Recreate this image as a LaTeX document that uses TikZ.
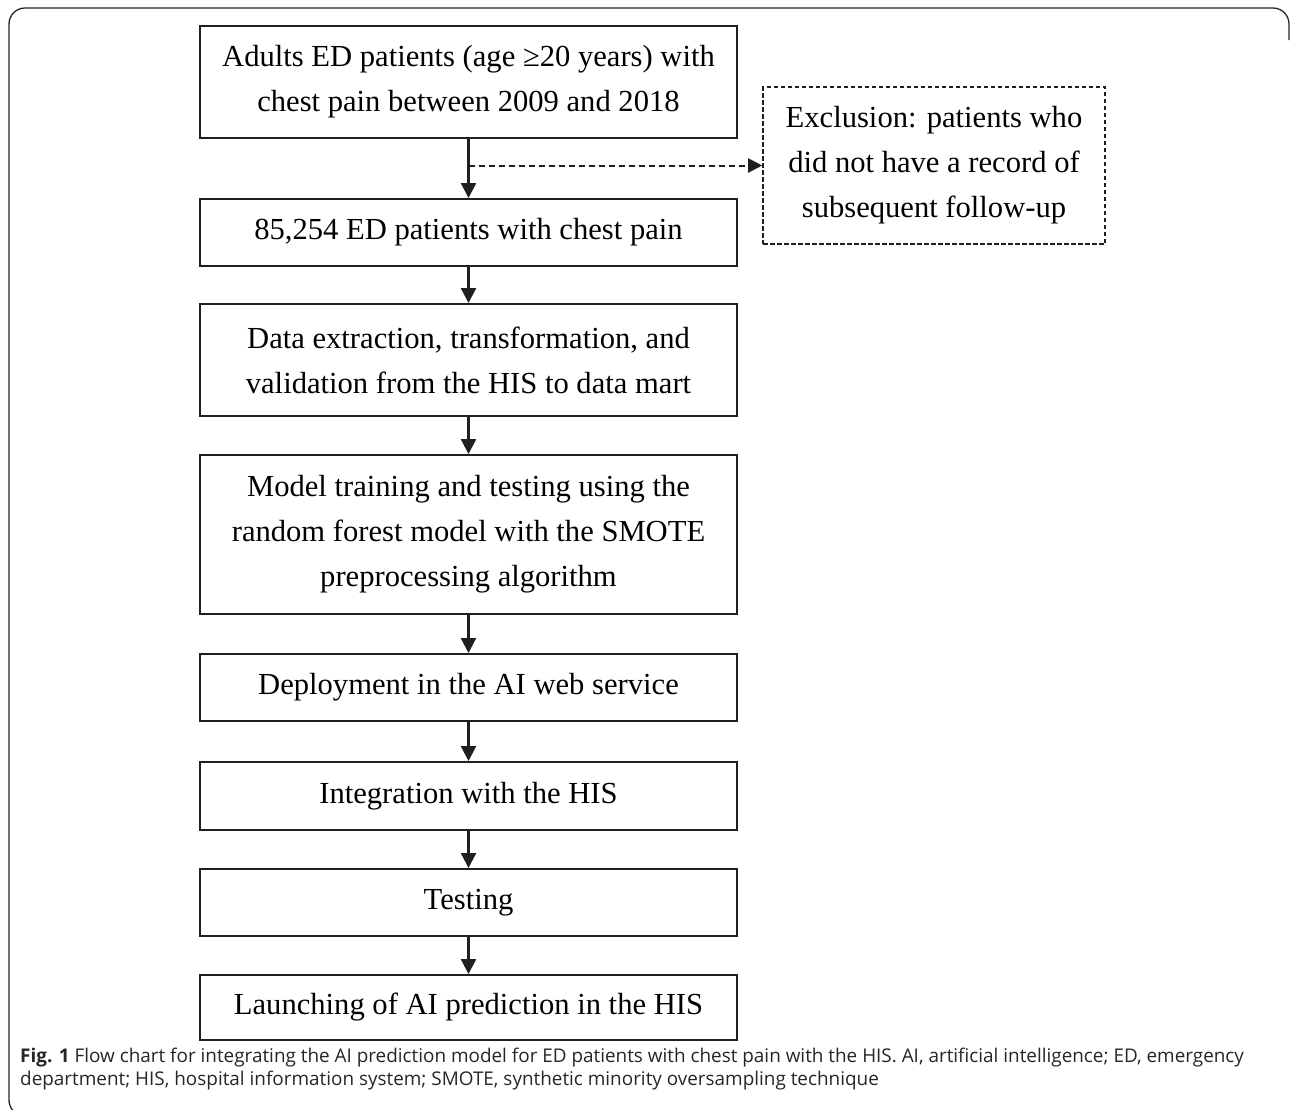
\documentclass[tikz,border=0pt]{standalone}
\usepackage{fontspec}
\setmainfont{Liberation Serif}
\newfontfamily\capfont{Open Sans}
\usetikzlibrary{arrows.meta}
\begin{document}
\begin{tikzpicture}[x=1pt,y=-1pt,
  flowbox/.style={draw=black!88,line width=2pt,rectangle,inner sep=0pt,minimum width=537pt,align=center,font=\fontsize{30.6}{45}\selectfont},
  exbox/.style={draw=black!88,line width=1.6pt,dash pattern=on 4.5pt off 2.5pt,rectangle,inner sep=0pt,minimum width=342pt,minimum height=157pt,align=center,font=\fontsize{30.6}{45}\selectfont},
  flowarrow/.style={draw=black!88,line width=2.3pt,-{Triangle[width=15pt,length=15pt]}},
  dasharrow/.style={draw=black!88,line width=2pt,dash pattern=on 6pt off 4pt,-{Triangle[width=14pt,length=14pt]}}
]
\useasboundingbox (0,0) rectangle (1290,1109);
\draw[line width=1.3pt,black!85] (25,1116) arc[start angle=90,end angle=180,radius=16] -- (9,24) arc[start angle=180,end angle=270,radius=16] -- (1273,8) arc[start angle=270,end angle=360,radius=16] -- (1289,40);

\node[flowbox,minimum height=112pt] (b1) at (468.5,82) {Adults ED patients (age ≥20 years) with\\chest pain between 2009 and 2018};
\node[exbox] (ex) at (934,165.5) {Exclusion: patients who\\did not have a record of\\subsequent follow-up};
\node[flowbox,minimum height=67pt] (b2) at (468.5,232.5) {85,254 ED patients with chest pain};
\node[flowbox,minimum height=112pt] (b3) at (468.5,360) {Data extraction, transformation, and\\validation from the HIS to data mart};
\node[flowbox,minimum height=159pt] (b4) at (468.5,534.5) {Model training and testing using the\\random forest model with the SMOTE\\preprocessing algorithm};
\node[flowbox,minimum height=67pt] (b5) at (468.5,687.5) {Deployment in the AI web service};
\node[flowbox,minimum height=68pt] (b6) at (468.5,796) {Integration with the HIS};
\node[flowbox,minimum height=67pt] (b7) at (468.5,902.5) {Testing};
\node[flowbox,minimum height=65pt] (b8) at (468.5,1007.5) {Launching of AI prediction in the HIS};

\coordinate (split) at (b1.south |- ex.west);
\draw[flowarrow] (b1) -- (b2);
\draw[dasharrow] (split) -- (ex.west);
\draw[flowarrow] (b2) -- (b3);
\draw[flowarrow] (b3) -- (b4);
\draw[flowarrow] (b4) -- (b5);
\draw[flowarrow] (b5) -- (b6);
\draw[flowarrow] (b6) -- (b7);
\draw[flowarrow] (b7) -- (b8);

\node[anchor=north west,inner sep=0pt,align=left,font=\capfont\fontsize{18.9}{22.5}\selectfont,text=black!85] (cap) at (20,1048) {\textbf{Fig. 1} Flow chart for integrating the AI prediction model for ED patients with chest pain with the HIS. AI, artificial intelligence; ED, emergency\\department; HIS, hospital information system; SMOTE, synthetic minority oversampling technique};
\end{tikzpicture}
\end{document}
